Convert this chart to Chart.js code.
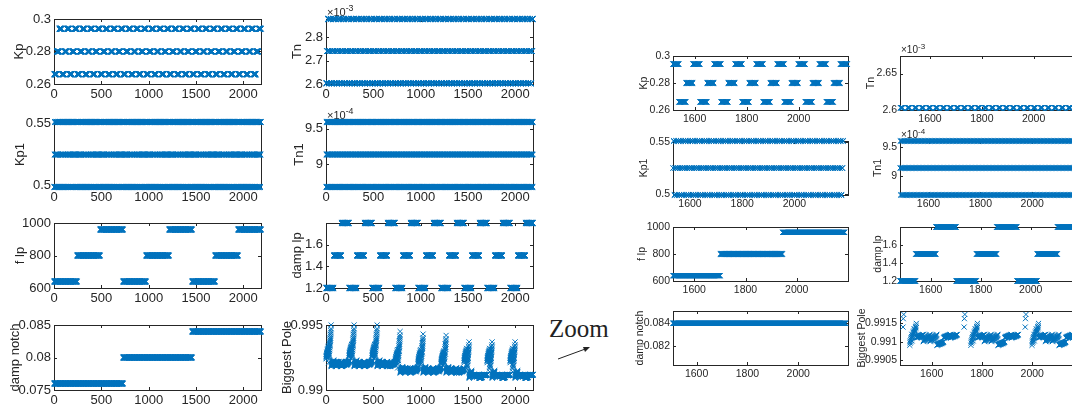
<!DOCTYPE html>
<html>
<head>
<meta charset="utf-8">
<script src="https://cdn.jsdelivr.net/npm/chart.js@4.4.1/dist/chart.umd.min.js"></script>
<style>
html, body { margin: 0; padding: 0; background: #fff; }
body { position: relative; width: 1072px; height: 406px; overflow: hidden; }
canvas { position: absolute; }
#zoomText { position: absolute; left: 549px; top: 315px; font: 25px 'Liberation Serif', 'Times New Roman', serif; color: #222; }
</style>
</head>
<body>
<div id="zoomText">Zoom</div>
<canvas id="arrow" width="50" height="30" style="left:550px;top:340px"></canvas>
<script>
// parameter sweep: 3 levels per parameter, 3^7 runs
const N = 2187;
const kpLevels = [0.266, 0.28, 0.294];
const tnLevels = [2.603e-3, 2.74e-3, 2.877e-3];
const kp1Levels = [0.4988, 0.525, 0.5513];
const tn1Levels = [8.683e-4, 9.14e-4, 9.597e-4];
const fLpLevels = [640, 800, 960];
const dampLpLevels = [1.2, 1.5, 1.8];
const dampNotchLevels = [0.076, 0.08, 0.084];

// how many consecutive runs keep the same level
const dampNotchRun = 729, fLpRun = 243, dampLpRun = 81, kpRun = 27, tnRun = 9, kp1Run = 3, tn1Run = 1;

// biggest closed-loop pole, min / max inside every Kp block of 27 runs
// (one line per f lp block: damp lp 1.2 | 1.5 | 1.8, each with Kp low / mid / high)
const poleLo = [
  0.9924, 0.9921, 0.9918, 0.9919, 0.9918, 0.9919, 0.9918, 0.9919, 0.9919,
  0.9925, 0.9921, 0.9918, 0.9919, 0.9918, 0.9919, 0.9918, 0.9919, 0.9919,
  0.9925, 0.9921, 0.9918, 0.9919, 0.9918, 0.9919, 0.9918, 0.9918, 0.9919,
  0.9920, 0.9917, 0.9913, 0.9914, 0.9913, 0.9914, 0.9913, 0.9914, 0.9914,
  0.9920, 0.9917, 0.9913, 0.9914, 0.9913, 0.9914, 0.9913, 0.9914, 0.9914,
  0.9920, 0.9916, 0.9913, 0.9914, 0.9913, 0.9914, 0.9913, 0.9913, 0.9914,
  0.9921, 0.9914, 0.9909, 0.9911, 0.9910, 0.9910, 0.9909, 0.9911, 0.9911,
  0.9921, 0.9914, 0.9909, 0.9911, 0.9910, 0.9910, 0.9909, 0.9911, 0.9911,
  0.9921, 0.9914, 0.9909, 0.9911, 0.9910, 0.9910, 0.9909, 0.9911, 0.9911
];
const poleHi = [
  0.9934, 0.9950, 0.9923, 0.9922, 0.9922, 0.9922, 0.9920, 0.9922, 0.9923,
  0.9935, 0.9950, 0.9923, 0.9922, 0.9921, 0.9922, 0.9920, 0.9922, 0.9923,
  0.9935, 0.9950, 0.9923, 0.9922, 0.9921, 0.9922, 0.9920, 0.9921, 0.9922,
  0.9931, 0.9945, 0.9918, 0.9917, 0.9917, 0.9917, 0.9915, 0.9917, 0.9918,
  0.9931, 0.9943, 0.9918, 0.9917, 0.9916, 0.9917, 0.9915, 0.9917, 0.9918,
  0.9930, 0.9942, 0.9918, 0.9917, 0.9916, 0.9917, 0.9915, 0.9916, 0.9917,
  0.9932, 0.9937, 0.9915, 0.9912, 0.9912, 0.9912, 0.9910, 0.9912, 0.9912,
  0.9932, 0.9937, 0.9915, 0.9912, 0.9912, 0.9912, 0.9910, 0.9912, 0.9912,
  0.9932, 0.9937, 0.9915, 0.9912, 0.9912, 0.9912, 0.9910, 0.9912, 0.9912
];
// where each of the 27 runs of a block sits between min and max
const poleMix = [
  0.00, 0.10, 0.20, 0.15, 0.25, 0.35, 0.30, 0.40, 0.50,
  0.20, 0.35, 0.45, 0.40, 0.50, 0.60, 0.55, 0.65, 0.75,
  0.45, 0.60, 0.70, 0.65, 0.75, 0.85, 0.80, 0.90, 1.00
];

// tick labels
const mainXTicks = [0, 500, 1000, 1500, 2000];
const zoomXTicks = [1600, 1800, 2000];
const kpTicks = [0.26, 0.28, 0.3];
const kp1Ticks = [0.5, 0.55];
const tnTicks = [2.6e-3, 2.7e-3, 2.8e-3];
const tnZoomTicks = [2.6e-3, 2.65e-3];
const tn1Ticks = [9e-4, 9.5e-4];
const fLpTicks = [600, 800, 1000];
const dampLpTicks = [1.2, 1.4, 1.6];
const dampNotchTicks = [0.075, 0.08, 0.085];
const dampNotchZoomTicks = [0.082, 0.084];
const poleTicks = [0.99, 0.995];
const poleZoomTicks = [0.9905, 0.991, 0.9915];

function expand(levels, run) {
  const out = [];
  for (let i = 0; i < N; i++) out.push(levels[Math.floor(i / run) % 3]);
  return out;
}

const runIndex = [];
for (let i = 1; i <= N; i++) runIndex.push(i);

const series = {
  kp: expand(kpLevels, kpRun),
  tn: expand(tnLevels, tnRun),
  kp1: expand(kp1Levels, kp1Run),
  tn1: expand(tn1Levels, tn1Run),
  fLp: expand(fLpLevels, fLpRun),
  dampLp: expand(dampLpLevels, dampLpRun),
  dampNotch: expand(dampNotchLevels, dampNotchRun),
  pole: runIndex.map((_, i) => {
    const b = Math.floor(i / kpRun);
    return poleLo[b] + (poleHi[b] - poleLo[b]) * poleMix[i % kpRun];
  })
};

const BLUE = '#0072BD';
const INK = '#262626';
const FONT = "'Liberation Sans', Arial, sans-serif";

function fmt(v, scale) {
  return String(parseFloat((v / scale).toPrecision(8)));
}

// box, inward ticks on all sides, rotated y label and the x10^n note
const frame = {
  id: 'frame',
  beforeDatasetsDraw(chart, args, o) {
    const {ctx, chartArea: a, scales: {x, y}} = chart;
    ctx.save();
    ctx.strokeStyle = INK;
    ctx.lineWidth = 1;
    ctx.strokeRect(Math.round(a.left) + 0.5, Math.round(a.top) + 0.5, Math.round(a.width), Math.round(a.height));
    ctx.beginPath();
    const t = o.tick;
    x.ticks.forEach(tk => {
      const px = Math.round(x.getPixelForValue(tk.value)) + 0.5;
      ctx.moveTo(px, a.bottom); ctx.lineTo(px, a.bottom - t);
      ctx.moveTo(px, a.top); ctx.lineTo(px, a.top + t);
    });
    y.ticks.forEach(tk => {
      const py = Math.round(y.getPixelForValue(tk.value)) + 0.5;
      ctx.moveTo(a.left, py); ctx.lineTo(a.left + t, py);
      ctx.moveTo(a.right, py); ctx.lineTo(a.right - t, py);
    });
    ctx.stroke();

    ctx.fillStyle = INK;
    ctx.font = o.size + 'px ' + FONT;
    ctx.textAlign = 'center';
    ctx.textBaseline = 'middle';
    ctx.translate(a.left + o.labelDx, (a.top + a.bottom) / 2);
    ctx.rotate(-Math.PI / 2);
    ctx.fillText(o.label, 0, 0);
    ctx.restore();

    if (o.power) {
      ctx.save();
      ctx.fillStyle = INK;
      ctx.textBaseline = 'alphabetic';
      ctx.textAlign = 'left';
      const fs = o.powerSize;
      ctx.font = fs + 'px ' + FONT;
      const base = a.top - 3;
      ctx.fillText('\u00d710', a.left + 1, base);
      const w = ctx.measureText('\u00d710').width;
      ctx.font = (fs * 0.8) + 'px ' + FONT;
      ctx.fillText(String(o.power), a.left + 1 + w, base - fs * 0.45);
      ctx.restore();
    }
  }
};

const colMain = [54, 326], colZoom = [673, 900];
const rowMain = [19, 122, 223, 325], rowZoom = [56, 141, 227, 311];
const mainW = 207, mainH = 65, zoomW = 175, zoomH = 54;

const panels = [
  // overview, whole sweep
  {key: 'kp', label: 'Kp', at: [colMain[0], rowMain[0]], y: [0.26, 0.30], yt: kpTicks, lx: 19},
  {key: 'tn', label: 'Tn', at: [colMain[1], rowMain[0]], y: [2.6e-3, 2.877e-3], yt: tnTicks, lx: 297, power: -3},
  {key: 'kp1', label: 'Kp1', at: [colMain[0], rowMain[1]], y: [0.4988, 0.5513], yt: kp1Ticks, lx: 20},
  {key: 'tn1', label: 'Tn1', at: [colMain[1], rowMain[1]], y: [8.683e-4, 9.597e-4], yt: tn1Ticks, lx: 299, power: -4},
  {key: 'fLp', label: 'f lp', at: [colMain[0], rowMain[2]], y: [600, 1000], yt: fLpTicks, lx: 20},
  {key: 'dampLp', label: 'damp lp', at: [colMain[1], rowMain[2]], y: [1.2, 1.8], yt: dampLpTicks, lx: 297},
  {key: 'dampNotch', label: 'damp notch', at: [colMain[0], rowMain[3]], y: [0.075, 0.085], yt: dampNotchTicks, lx: 15},
  {key: 'pole', label: 'Biggest Pole', at: [colMain[1], rowMain[3]], y: [0.99, 0.995], yt: poleTicks, lx: 287},
  // close-up of the last third
  {key: 'kp', label: 'Kp', at: [colZoom[0], rowZoom[0]], x: [1517, 2190], y: [0.26, 0.30], yt: kpTicks, lx: 644, zoom: true},
  {key: 'tn', label: 'Tn', at: [colZoom[1], rowZoom[0]], x: [1484, 2160], y: [2.6e-3, 2.674e-3], yt: tnZoomTicks, lx: 871, power: -3, zoom: true},
  {key: 'kp1', label: 'Kp1', at: [colZoom[0], rowZoom[1]], x: [1535, 2205], y: [0.4988, 0.5513], yt: kp1Ticks, lx: 644, zoom: true},
  {key: 'tn1', label: 'Tn1', at: [colZoom[1], rowZoom[1]], x: [1490, 2165], y: [8.683e-4, 9.597e-4], yt: tn1Ticks, lx: 878, power: -4, zoom: true},
  {key: 'fLp', label: 'f lp', at: [colZoom[0], rowZoom[2]], x: [1517, 2200], y: [600, 1000], yt: fLpTicks, lx: 642, zoom: true},
  {key: 'dampLp', label: 'damp lp', at: [colZoom[1], rowZoom[2]], x: [1477, 2177], y: [1.2, 1.8], yt: dampLpTicks, lx: 878, zoom: true},
  {key: 'dampNotch', label: 'damp notch', at: [colZoom[0], rowZoom[3]], x: [1507, 2196], y: [0.08032, 0.08509], yt: dampNotchZoomTicks, lx: 640, zoom: true},
  {key: 'pole', label: 'Biggest Pole', at: [colZoom[1], rowZoom[3]], x: [1474, 2170], y: [0.99036, 0.99184], yt: poleZoomTicks, lx: 862, zoom: true}
];

const padL = 64, padT = 18, padR = 14, padB = 22;

panels.forEach(p => {
  const w = p.zoom ? zoomW : mainW, h = p.zoom ? zoomH : mainH;
  const xr = p.x || [0, N];
  const xt = p.zoom ? zoomXTicks : mainXTicks;
  const size = p.zoom ? 10.5 : 13;
  const scale = p.power ? Math.pow(10, p.power) : 1;
  const eps = (p.y[1] - p.y[0]) * 1e-3;
  const vals = series[p.key];
  const pts = [];
  runIndex.forEach((xv, i) => {
    const yv = vals[i];
    if (xv >= xr[0] && xv <= xr[1] && yv >= p.y[0] - eps && yv <= p.y[1] + eps) pts.push({x: xv, y: yv});
  });

  const cv = document.createElement('canvas');
  cv.width = w + padL + padR;
  cv.height = h + padT + padB;
  cv.style.left = (p.at[0] - padL) + 'px';
  cv.style.top = (p.at[1] - padT) + 'px';
  document.body.appendChild(cv);

  const tickFont = {family: FONT, size: size};
  new Chart(cv, {
    type: 'scatter',
    data: {
      datasets: [{
        data: pts,
        pointStyle: 'crossRot',
        pointRadius: 3.6,
        borderWidth: 1,
        borderColor: BLUE,
        backgroundColor: BLUE,
        clip: false
      }]
    },
    options: {
      responsive: false,
      animation: false,
      events: [],
      layout: {autoPadding: false, padding: {top: padT, right: padR, left: 0, bottom: 0}},
      plugins: {
        legend: {display: false},
        tooltip: {enabled: false},
        frame: {label: p.label, labelDx: p.lx - p.at[0], size: size, tick: 3, power: p.power, powerSize: p.zoom ? 10 : 11}
      },
      scales: {
        x: {
          type: 'linear', min: xr[0], max: xr[1],
          afterFit: s => { s.height = padB; },
          afterBuildTicks: s => { s.ticks = xt.map(v => ({value: v})); },
          grid: {display: false, drawTicks: false},
          border: {display: false},
          ticks: {padding: 3, font: tickFont, color: INK, maxRotation: 0, autoSkip: false, callback: v => fmt(v, 1)}
        },
        y: {
          type: 'linear', min: p.y[0], max: p.y[1],
          afterFit: s => { s.width = padL; },
          afterBuildTicks: s => { s.ticks = p.yt.map(v => ({value: v})); },
          grid: {display: false, drawTicks: false},
          border: {display: false},
          ticks: {padding: 3, font: tickFont, color: INK, autoSkip: false, callback: v => fmt(v, scale)}
        }
      }
    },
    plugins: [frame]
  });
});

// little arrow pointing from the overview to the close-up
const actx = document.getElementById('arrow').getContext('2d');
actx.strokeStyle = '#222';
actx.fillStyle = '#222';
actx.lineWidth = 1;
actx.beginPath();
actx.moveTo(8, 19);
actx.lineTo(38, 8);
actx.stroke();
actx.beginPath();
actx.moveTo(40, 7);
actx.lineTo(33, 7);
actx.lineTo(35, 12);
actx.closePath();
actx.fill();
</script>
</body>
</html>
